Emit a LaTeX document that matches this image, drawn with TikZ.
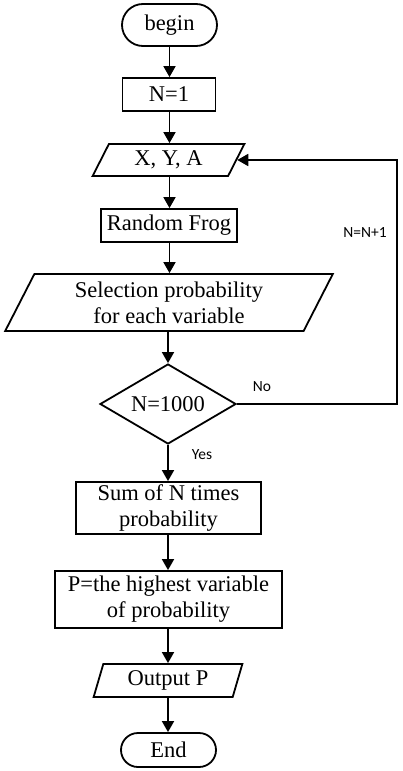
\documentclass[tikz,border=0pt]{standalone}
\usepackage{fontspec}
\setmainfont{Liberation Serif}
\newfontfamily\lblfont{Carlito}
\usetikzlibrary{arrows.meta,shapes.geometric,shapes.misc}
\begin{document}
\begin{tikzpicture}[x=1pt,y=-1pt,
  every node/.style={font=\fontsize{22.5}{26}\selectfont, align=center, inner sep=0pt, line width=1.8pt},
  term/.style={draw, rounded rectangle, minimum width=95pt},
  proc/.style={draw, rectangle},
  io/.style={draw, trapezium, trapezium stretches=true},
  dec/.style={draw, diamond, aspect=1.7},
  lbl/.style={font=\lblfont\fontsize{15.5}{17}\selectfont},
  conn/.style={line width=1.8pt, -{Triangle[length=11pt,width=12pt]}}]
\useasboundingbox (0,0) rectangle (403,771);
\node[term, minimum height=42pt] (begin) at (169.5,25) {begin};
\node[proc, minimum width=93pt, minimum height=33pt] (n1) at (169,94.5) {N=1};
\node[io, trapezium left angle=63, trapezium right angle=117, minimum width=153pt, minimum height=32pt] (xya) at (168.5,160) {X, Y, A};
\node[proc, minimum width=136pt, minimum height=33pt] (rf) at (169,225.5) {Random Frog};
\node[io, trapezium left angle=64, trapezium right angle=116, minimum width=328pt, minimum height=57pt] (sel) at (169,302.5) {Selection probability\\for each variable};
\node[dec, minimum width=136pt, minimum height=80pt] (dec) at (168,404) {N=1000};
\node[proc, minimum width=185pt, minimum height=52pt] (sum) at (168.5,508) {Sum of N times\\probability};
\node[proc, minimum width=227pt, minimum height=57pt] (pp) at (168.5,599.5) {P=the highest variable\\of probability};
\node[io, trapezium left angle=73, trapezium right angle=107, minimum width=150pt, minimum height=33pt] (out) at (168,680.5) {Output P};
\node[term, minimum height=34pt] (end) at (168.5,750) {End};
\coordinate (c1) at (397,404);
\coordinate (c2) at (397,160);
\draw[conn] (begin.south) -- (n1.north -| begin.south);
\draw[conn] (n1.south -| begin.south) -- (xya.north -| begin.south);
\draw[conn] (xya.south -| begin.south) -- (rf.north -| begin.south);
\draw[conn] (rf.south -| begin.south) -- (sel.north -| begin.south);
\draw[conn] (sel.south -| dec.north) -- (dec.north);
\draw[conn] (dec.south) -- (sum.north -| dec.south);
\draw[conn] (sum.south -| dec.south) -- (pp.north -| dec.south);
\draw[conn] (pp.south -| dec.south) -- (out.north -| dec.south);
\draw[conn] (out.south -| dec.south) -- (end.north -| dec.south);
\draw[conn] (dec.east) -- (c1) -- (c2) -- (xya.east);
\node[lbl] (no) at (262,387) {No};
\node[lbl] (yes) at (202,455) {Yes};
\node[lbl] (inc) at (365,233) {N=N+1};
\end{tikzpicture}
\end{document}
